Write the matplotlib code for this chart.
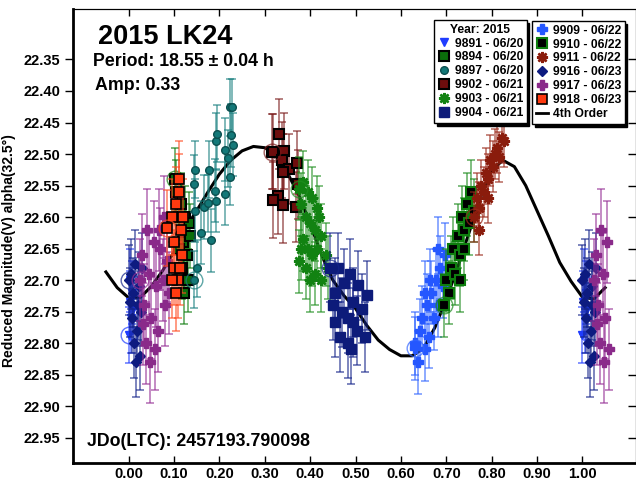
import numpy as np
import matplotlib
matplotlib.use("Agg")
import matplotlib.pyplot as plt
from matplotlib.lines import Line2D
from matplotlib.ticker import FormatStrFormatter

plt.rcParams['font.family'] = ['Liberation Sans', 'DejaVu Sans']
plt.rcParams['font.weight'] = 'bold'

# 4th order fit
fit_ph = [-0.05, -0.025, 0.0, 0.025, 0.05, 0.075, 0.10, 0.125, 0.15, 0.175, 0.20, 0.225,
          0.25, 0.275, 0.30, 0.325, 0.35, 0.375, 0.40, 0.425, 0.45, 0.475, 0.50, 0.525,
          0.55, 0.575, 0.60, 0.625, 0.65, 0.675, 0.70, 0.725, 0.75, 0.775, 0.80, 0.825,
          0.85, 0.875, 0.90, 0.925, 0.95, 0.975, 1.00, 1.025, 1.05]
fit_mag = [22.687, 22.712, 22.728, 22.728, 22.710, 22.685, 22.655, 22.618, 22.590, 22.560,
           22.532, 22.510, 22.495, 22.488, 22.490, 22.500, 22.530, 22.565, 22.610, 22.660,
           22.700, 22.725, 22.745, 22.772, 22.795, 22.810, 22.820, 22.820, 22.808, 22.775,
           22.730, 22.680, 22.625, 22.570, 22.525, 22.510, 22.520, 22.550, 22.590, 22.630,
           22.672, 22.702, 22.727, 22.730, 22.712]

s9891_ph = [0.000, 0.002, 0.004, 0.006, 0.008, 0.010]
s9891_mag = [22.787, 22.735, 22.700, 22.760, 22.720, 22.745]
s9891_err = [0.045, 0.050, 0.050, 0.055, 0.050, 0.050]

s9894_ph = [0.102, 0.105, 0.110, 0.115, 0.120, 0.125, 0.128, 0.130, 0.122, 0.118, 0.112, 0.135, 0.132]
s9894_mag = [22.540, 22.560, 22.600, 22.580, 22.640, 22.600, 22.660, 22.700, 22.720, 22.680, 22.650, 22.630, 22.610]
s9894_err = [0.05, 0.05, 0.05, 0.05, 0.05, 0.05, 0.05, 0.05, 0.05, 0.05, 0.05, 0.05, 0.05]

s9897_ph = [0.145, 0.151, 0.147, 0.145, 0.146, 0.160, 0.166, 0.175, 0.178, 0.182, 0.191,
            0.193, 0.193, 0.195, 0.212, 0.212, 0.219, 0.224, 0.224, 0.228, 0.230, 0.226]
s9897_mag = [22.699, 22.681, 22.590, 22.547, 22.525, 22.625, 22.584, 22.578, 22.525, 22.637, 22.558,
             22.574, 22.480, 22.468, 22.563, 22.493, 22.507, 22.536, 22.426, 22.426, 22.485, 22.470]
s9897_err = [0.045, 0.045, 0.05, 0.045, 0.045, 0.05, 0.05, 0.045, 0.045, 0.05, 0.05,
             0.05, 0.045, 0.045, 0.05, 0.05, 0.045, 0.045, 0.045, 0.045, 0.05, 0.05]

s9902_ph = [0.316, 0.332, 0.319, 0.342, 0.337, 0.354, 0.370, 0.341, 0.373, 0.330, 0.319, 0.341, 0.368]
s9902_mag = [22.496, 22.468, 22.496, 22.495, 22.509, 22.524, 22.514, 22.529, 22.548, 22.567, 22.573, 22.581, 22.584]
s9902_err = [0.06, 0.055, 0.06, 0.06, 0.06, 0.055, 0.05, 0.06, 0.055, 0.06, 0.06, 0.06, 0.055]

s9903_ph = [0.375, 0.385, 0.395, 0.405, 0.380, 0.415, 0.390, 0.400, 0.410, 0.420, 0.425, 0.385,
            0.395, 0.405, 0.415, 0.435, 0.375, 0.390, 0.410, 0.425, 0.400, 0.380, 0.440]
s9903_mag = [22.555, 22.545, 22.560, 22.570, 22.580, 22.585, 22.600, 22.610, 22.620, 22.600, 22.630, 22.635,
             22.650, 22.660, 22.650, 22.660, 22.670, 22.680, 22.690, 22.700, 22.700, 22.650, 22.680]
s9903_err = [0.05, 0.05, 0.05, 0.05, 0.05, 0.05, 0.05, 0.05, 0.05, 0.05, 0.05, 0.05,
             0.05, 0.05, 0.05, 0.05, 0.05, 0.05, 0.05, 0.05, 0.05, 0.05, 0.05]

s9904_ph = [0.444, 0.462, 0.488, 0.506, 0.525, 0.455, 0.451, 0.470, 0.484, 0.495, 0.455,
            0.503, 0.484, 0.521, 0.475, 0.495, 0.515, 0.465, 0.490]
s9904_mag = [22.680, 22.680, 22.690, 22.708, 22.724, 22.720, 22.740, 22.751, 22.760, 22.767, 22.767,
             22.780, 22.800, 22.790, 22.705, 22.735, 22.745, 22.790, 22.810]
s9904_err = [0.055, 0.055, 0.055, 0.055, 0.055, 0.055, 0.055, 0.055, 0.055, 0.055, 0.055,
             0.055, 0.055, 0.055, 0.055, 0.055, 0.055, 0.055, 0.055]

s9909_ph = [0.630, 0.632, 0.637, 0.642, 0.647, 0.652, 0.657, 0.662, 0.667, 0.672, 0.677,
            0.682, 0.687, 0.692, 0.697, 0.664, 0.652, 0.682]
s9909_mag = [22.808, 22.800, 22.830, 22.780, 22.760, 22.810, 22.740, 22.790, 22.720, 22.760, 22.700,
             22.740, 22.680, 22.710, 22.660, 22.700, 22.720, 22.650]
s9909_err = [0.05, 0.05, 0.05, 0.05, 0.05, 0.05, 0.05, 0.05, 0.05, 0.05, 0.05,
             0.05, 0.05, 0.05, 0.05, 0.05, 0.05, 0.05]

s9910_ph = [0.695, 0.700, 0.705, 0.710, 0.715, 0.720, 0.725, 0.730, 0.735, 0.740, 0.745,
            0.750, 0.755, 0.760, 0.740, 0.730]
s9910_mag = [22.740, 22.700, 22.720, 22.680, 22.650, 22.690, 22.630, 22.660, 22.600, 22.620, 22.580,
             22.610, 22.560, 22.590, 22.650, 22.700]
s9910_err = [0.05, 0.05, 0.05, 0.05, 0.05, 0.05, 0.05, 0.05, 0.05, 0.05, 0.05,
             0.05, 0.05, 0.05, 0.05, 0.05]

s9911_ph = [0.762, 0.767, 0.772, 0.777, 0.782, 0.787, 0.792, 0.797, 0.802, 0.807, 0.812,
            0.817, 0.822, 0.827, 0.792, 0.772]
s9911_mag = [22.600, 22.570, 22.585, 22.550, 22.560, 22.530, 22.540, 22.510, 22.520, 22.500, 22.490,
             22.505, 22.475, 22.480, 22.570, 22.620]
s9911_err = [0.04, 0.04, 0.04, 0.04, 0.04, 0.04, 0.04, 0.04, 0.04, 0.04, 0.04,
             0.04, 0.04, 0.04, 0.04, 0.04]

s9916_ph = [0.000, 0.005, 0.010, 0.015, 0.020, 0.008, 0.018, 0.012, 0.025, 0.022, 0.028, 0.003, 0.030, 0.016]
s9916_mag = [22.700, 22.690, 22.720, 22.675, 22.740, 22.760, 22.780, 22.800, 22.820, 22.710, 22.750, 22.735, 22.680, 22.830]
s9916_err = [0.055, 0.055, 0.055, 0.055, 0.055, 0.055, 0.055, 0.055, 0.055, 0.055, 0.055, 0.055, 0.055, 0.055]

s9917_ph = [0.025, 0.030, 0.035, 0.040, 0.045, 0.050, 0.055, 0.060, 0.065, 0.070, 0.075,
            0.080, 0.085, 0.090, 0.038, 0.058, 0.048, 0.068, 0.078, 0.032]
s9917_mag = [22.700, 22.660, 22.740, 22.620, 22.690, 22.760, 22.640, 22.710, 22.780, 22.650, 22.700,
             22.740, 22.670, 22.720, 22.800, 22.810, 22.830, 22.620, 22.600, 22.770]
s9917_err = [0.065, 0.065, 0.065, 0.065, 0.065, 0.065, 0.065, 0.065, 0.065, 0.065, 0.065,
             0.065, 0.065, 0.065, 0.065, 0.065, 0.065, 0.065, 0.065, 0.065]

s9918_ph = [0.085, 0.095, 0.100, 0.105, 0.110, 0.115, 0.100, 0.108, 0.118, 0.112, 0.104, 0.120, 0.096, 0.114]
s9918_mag = [22.617, 22.600, 22.640, 22.580, 22.560, 22.620, 22.680, 22.700, 22.660, 22.540, 22.720, 22.600, 22.700, 22.680]
s9918_err = [0.06, 0.06, 0.06, 0.06, 0.06, 0.06, 0.06, 0.06, 0.06, 0.06, 0.06, 0.06, 0.06, 0.06]

sessions = [
    ("9891 - 06/20", s9891_ph, s9891_mag, s9891_err, dict(marker='v', mfc='#1f3cff', mec='#1f3cff', ms=6), '#1f3cff'),
    ("9894 - 06/20", s9894_ph, s9894_mag, s9894_err, dict(marker='s', mfc='#0b6e0b', mec='black', ms=6.5, mew=1.5), '#0b7a0b'),
    ("9897 - 06/20", s9897_ph, s9897_mag, s9897_err, dict(marker='o', mfc='#137878', mec='#0b4f4f', ms=5.5), '#1a8080'),
    ("9902 - 06/21", s9902_ph, s9902_mag, s9902_err, dict(marker='s', mfc='#6e0d0d', mec='black', ms=7, mew=1.5), '#7a1a1a'),
    ("9903 - 06/21", s9903_ph, s9903_mag, s9903_err, dict(marker=(8, 2, 0), mfc='#128212', mec='#128212', ms=8, mew=1.8), '#1f8f1f'),
    ("9904 - 06/21", s9904_ph, s9904_mag, s9904_err, dict(marker='s', mfc='#0d1b7a', mec='#0d1b7a', ms=6.5), '#14248a'),
    ("9909 - 06/22", s9909_ph, s9909_mag, s9909_err, dict(marker='P', mfc='#2557ff', mec='#2557ff', ms=6.5), '#3366ff'),
    ("9910 - 06/22", s9910_ph, s9910_mag, s9910_err, dict(marker='s', mfc='black', mec='#0e7e0e', ms=6.5, mew=1.5), '#1a8a1a'),
    ("9911 - 06/22", s9911_ph, s9911_mag, s9911_err, dict(marker=(8, 2, 0), mfc='#8a1c0c', mec='#8a1c0c', ms=8, mew=1.8), '#9a2a1a'),
    ("9916 - 06/23", s9916_ph, s9916_mag, s9916_err, dict(marker='D', mfc='#0d1b80', mec='#0d1b80', ms=5), '#14248a'),
    ("9917 - 06/23", s9917_ph, s9917_mag, s9917_err, dict(marker='P', mfc='#8a2a8a', mec='#8a2a8a', ms=7), '#952f95'),
    ("9918 - 06/23", s9918_ph, s9918_mag, s9918_err, dict(marker='s', mfc='#ff3a10', mec='black', ms=7, mew=1.2), '#ff4a20'),
]

fig = plt.figure(figsize=(6.36, 4.83), dpi=100)
ax = fig.add_axes([73 / 636, 20 / 483, 563 / 636, 454 / 483])

ax.plot(fit_ph, fit_mag, color='black', lw=2.2, zorder=5)

for i, (label, ph, mag, err, mk, ecol) in enumerate(sessions):
    ph = np.array(ph)
    mag = np.array(mag)
    err = np.array(err)
    wrap = ph < 0.06
    x = np.concatenate([ph, ph[wrap] + 1.0])
    y = np.concatenate([mag, mag[wrap]])
    e = np.concatenate([err, err[wrap]])
    ax.errorbar(x, y, yerr=e, fmt='none', ecolor=ecol, elinewidth=1.1, capsize=3,
                capthick=1.1, alpha=0.7, zorder=6 + 2 * i)
    ax.plot(x, y, linestyle='none', zorder=7 + 2 * i, **mk)
    # first point of each session gets an open circle
    ax.plot(x[0], y[0], 'o', mfc='none', mec=ecol, ms=12, mew=1, alpha=0.7, zorder=7 + 2 * i)

ax.set_xlim(-0.1225, 1.118)
ax.set_ylim(22.99, 22.27)
ax.set_xticks(np.arange(0, 1.01, 0.1))
ax.set_yticks(np.arange(22.35, 22.96, 0.05))
ax.xaxis.set_major_formatter(FormatStrFormatter('%.2f'))
ax.yaxis.set_major_formatter(FormatStrFormatter('%.2f'))
ax.tick_params(axis='x', direction='in', length=5, width=1, labelsize=10.5, pad=3)
ax.tick_params(axis='y', direction='out', length=6, width=1, labelsize=10.5, pad=3)
for lab in ax.get_xticklabels() + ax.get_yticklabels():
    lab.set_fontweight('bold')

top = ax.secondary_xaxis('top')
top.set_xticks(np.arange(0, 1.01, 0.1))
top.tick_params(direction='in', length=5, width=1, labeltop=False)
right = ax.secondary_yaxis('right')
right.set_yticks(np.arange(22.35, 22.96, 0.05))
right.tick_params(direction='in', length=6, width=1, labelright=False)

ax.spines['left'].set_linewidth(2)
ax.spines['bottom'].set_linewidth(2)

ax.set_ylabel('Reduced Magnitude(V) alpha(32.5°)', fontsize=10, fontweight='bold')
ax.yaxis.set_label_coords(-0.101, 0.467)

fig.text(98 / 636, 1 - 37 / 483, '2015 LK24', fontsize=19.5, fontweight='bold', va='center')
fig.text(93 / 636, 1 - 62 / 483, 'Period: 18.55 ± 0.04 h', fontsize=12.8, fontweight='bold', va='center')
fig.text(95 / 636, 1 - 85 / 483, 'Amp: 0.33', fontsize=12.8, fontweight='bold', va='center')
fig.text(87 / 636, 1 - 441 / 483, 'JDo(LTC): 2457193.790098', fontsize=12.8, fontweight='bold', va='center')

handles = []
for label, ph, mag, err, mk, ecol in sessions:
    handles.append(Line2D([], [], linestyle='none', label=label, **mk))
handles.append(Line2D([], [], color='black', lw=2, label='4th Order'))

leg_kw = dict(loc='upper left', borderaxespad=0, borderpad=0.3, labelspacing=0.16,
              handlelength=1.0, handletextpad=0.4, fancybox=False, framealpha=1,
              edgecolor='black', prop={'weight': 'bold', 'size': 8.7},
              shadow={'color': 'black', 'alpha': 1})
leg1 = fig.legend(handles=handles[:6], title='Year: 2015',
                  bbox_to_anchor=(434 / 636, 1 - 20 / 483), **leg_kw)
leg1.get_title().set_fontweight('bold')
leg1.get_title().set_fontsize(8.7)
leg2 = fig.legend(handles=handles[6:], bbox_to_anchor=(532 / 636, 1 - 21 / 483), **leg_kw)
leg1.set_zorder(50)
leg2.set_zorder(50)

fig.savefig('out.png', dpi=100)
